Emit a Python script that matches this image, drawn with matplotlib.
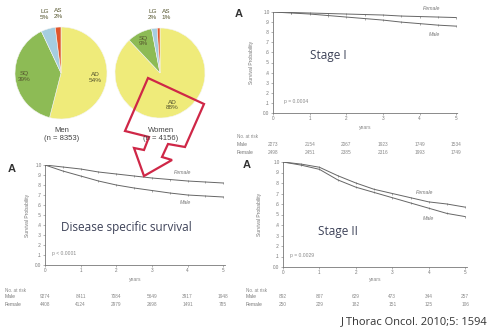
import numpy as np
import matplotlib
matplotlib.use('Agg')
import matplotlib.pyplot as plt
from matplotlib.patches import Polygon
from matplotlib.transforms import blended_transform_factory

plt.rcParams['font.family'] = ['Liberation Sans', 'DejaVu Sans']

W, H = 489, 333

# histology pies
pie_labels = ['AD', 'SQ', 'LG', 'AS']
men_pct = [54, 39, 5, 2]
women_pct = [88, 9, 2, 1]
pie_colors = ['#efeb7a', '#8dbb55', '#a5cde0', '#e0552b']

# survival curves
years = [0, 0.5, 1, 1.5, 2, 2.5, 3, 3.5, 4, 4.5, 5]
dss_female = [1.0, 0.98, 0.96, 0.93, 0.91, 0.89, 0.87, 0.855, 0.84, 0.83, 0.82]
dss_male = [1.0, 0.94, 0.89, 0.84, 0.80, 0.77, 0.745, 0.72, 0.70, 0.69, 0.68]
st1_female = [1.0, 0.995, 0.99, 0.985, 0.98, 0.975, 0.97, 0.96, 0.955, 0.95, 0.945]
st1_male = [1.0, 0.99, 0.98, 0.965, 0.95, 0.935, 0.92, 0.90, 0.885, 0.87, 0.86]
st2_female = [1.0, 0.98, 0.95, 0.87, 0.80, 0.74, 0.70, 0.66, 0.62, 0.60, 0.57]
st2_male = [1.0, 0.97, 0.93, 0.83, 0.76, 0.71, 0.66, 0.61, 0.56, 0.51, 0.48]

risk_years = [0, 1, 2, 3, 4, 5]
dss_risk_male = ['9274', '8411', '7084', '5649', '3917', '1948']
dss_risk_female = ['4408', '4124', '2979', '2698', '1491', '785']
st1_risk_male = ['2273', '2154', '2067', '1923', '1749', '1534']
st1_risk_female = ['2498', '2451', '2385', '2316', '1993', '1749']
st2_risk_male = ['892', '807', '629', '473', '344', '257']
st2_risk_female = ['250', '229', '182', '151', '125', '106']

fig = plt.figure(figsize=(W / 100, H / 100), dpi=100, facecolor='white')


def box(l, t, r, b):
    return [l / W, 1 - b / H, (r - l) / W, (b - t) / H]


over = fig.add_axes([0, 0, 1, 1], zorder=10)
over.set_xlim(0, W)
over.set_ylim(H, 0)
over.axis('off')
over.patch.set_alpha(0)

# ---- pies
label_col = '#55552e'
def draw_pie(cx, cy, r, pct, small_pos, title):
    ax = fig.add_axes(box(cx - r, cy - r, cx + r, cy + r))
    wedges, _ = ax.pie(pct, colors=pie_colors, startangle=90, counterclock=False,
                       radius=1, wedgeprops=dict(edgecolor='#f4f4f4', linewidth=0.4))
    ax.set_xlim(-1, 1)
    ax.set_ylim(-1, 1)
    ax.set_aspect('equal')
    for i, w in enumerate(wedges):
        txt = f'{pie_labels[i]}\n{pct[i]}%'
        if i < 2:
            mid = np.deg2rad((w.theta1 + w.theta2) / 2)
            d = 0.76 if i == 0 else 0.8
            x, y = d * np.cos(mid), d * np.sin(mid)
        else:
            x, y = small_pos[i - 2]
        ax.text(x, y, txt, ha='center', va='center', fontsize=4.6,
                color=label_col, linespacing=1.1)
    over.text(cx + 1, cy + 61, title, ha='center', va='center', fontsize=5.5,
              color='#444444', linespacing=1.2)

draw_pie(61, 73, 46, men_pct, [(-0.36, 1.27), (-0.06, 1.29)], 'Men\n(n = 8353)')
draw_pie(160, 73, 45, women_pct, [(-0.17, 1.30), (0.14, 1.30)], 'Women\n(n = 4156)')

# ---- red hollow arrow (outline only, pointing down to the survival panel)
arrow_pts = [(148, 78), (204, 104), (185, 147), (168, 144), (162, 157),
             (172, 160), (144, 176), (134, 148), (144, 150), (149, 137), (125, 131)]
over.add_patch(Polygon(arrow_pts, closed=True, fill=False, edgecolor='#cf2747',
                       lw=1.6, joinstyle='miter'))


# ---- KM panels
def km_panel(rect, female, male, big, big_pos, fem_pos, male_pos, pval, p_pos,
             xlab_y, ylab_x, risk_m, risk_f, risk_y, label_x, a_pos):
    l, t, r, b = rect
    ax = fig.add_axes(box(l, t, r, b))
    ax.plot(years, female, color='#666666', lw=0.7, marker='|', ms=1.5, mew=0.4)
    ax.plot(years, male, color='#666666', lw=0.7, marker='|', ms=1.5, mew=0.4)
    ax.set_xlim(0, 5.05)
    ax.set_ylim(0, 1.0)
    ax.set_xticks(range(6))
    ax.set_yticks(np.arange(0, 1.01, 0.1))
    ax.set_yticklabels(['0.0', '.1', '.2', '.3', '.4', '.5', '.6', '.7', '.8', '.9', '1.0'])
    ax.tick_params(labelsize=3.3, length=1.5, width=0.4, pad=1, colors='#777777')
    for s in ['top', 'right']:
        ax.spines[s].set_visible(False)
    for s in ['left', 'bottom']:
        ax.spines[s].set_linestyle((0, (2, 1)))
        ax.spines[s].set_linewidth(0.6)
        ax.spines[s].set_color('#777777')
    ax.patch.set_alpha(0)
    over.text(big_pos[0], big_pos[1], big, ha='center', va='center', fontsize=8.5,
              color='#3d4258', family=['Open Sans', 'DejaVu Sans'])
    over.text(*fem_pos, 'Female', fontsize=3.8, color='#777777', ha='center', va='center',
              style='italic')
    over.text(*male_pos, 'Male', fontsize=3.8, color='#777777', ha='center', va='center',
              style='italic')
    over.text(*p_pos, pval, fontsize=3.6, color='#888888', ha='left', va='center')
    over.text((l + r) / 2, xlab_y, 'years', fontsize=3.6, color='#888888',
              ha='center', va='center')
    over.text(ylab_x, (t + b) / 2, 'Survival Probability', fontsize=3.6,
              color='#777777', ha='center', va='center', rotation=90)
    tr = blended_transform_factory(ax.transData, over.transData)
    over.text(label_x, risk_y[0], 'No. at risk', fontsize=3.3, color='#888888',
              ha='left', va='center')
    over.text(label_x, risk_y[1], 'Male', fontsize=3.6, color='#777777', ha='left', va='center')
    over.text(label_x, risk_y[2], 'Female', fontsize=3.6, color='#777777', ha='left', va='center')
    for x, m, f in zip(risk_years, risk_m, risk_f):
        ax.text(x, risk_y[1], m, transform=tr, fontsize=3.4, color='#888888',
                ha='center', va='center')
        ax.text(x, risk_y[2], f, transform=tr, fontsize=3.4, color='#888888',
                ha='center', va='center')
    over.text(*a_pos, 'A', fontsize=8, fontweight='bold', color='#333333',
              ha='center', va='center')

km_panel((45, 165, 225, 265), dss_female, dss_male, 'Disease specific survival',
         (126, 228), (183, 173), (185, 203), 'p < 0.0001', (52, 253),
         280, 27, dss_risk_male, dss_risk_female, (291, 297, 305), 5, (12, 169))
km_panel((273, 12, 458, 113), st1_female, st1_male, 'Stage I',
         (328, 56), (432, 9), (434, 35), 'p = 0.0004', (284, 101),
         127, 252, st1_risk_male, st1_risk_female, (137, 145, 153), 237, (239, 14))
km_panel((283, 162, 467, 267), st2_female, st2_male, 'Stage II',
         (338, 231), (425, 193), (428, 219), 'p = 0.0029', (290, 256),
         280, 259, st2_risk_male, st2_risk_female, (290, 296, 304), 246, (247, 165))

over.text(488, 322, 'J Thorac Oncol. 2010;5: 1594', fontsize=8, color='#333333',
          ha='right', va='center', family=['Open Sans', 'DejaVu Sans'])

fig.savefig('out.png', dpi=100, facecolor='white')
